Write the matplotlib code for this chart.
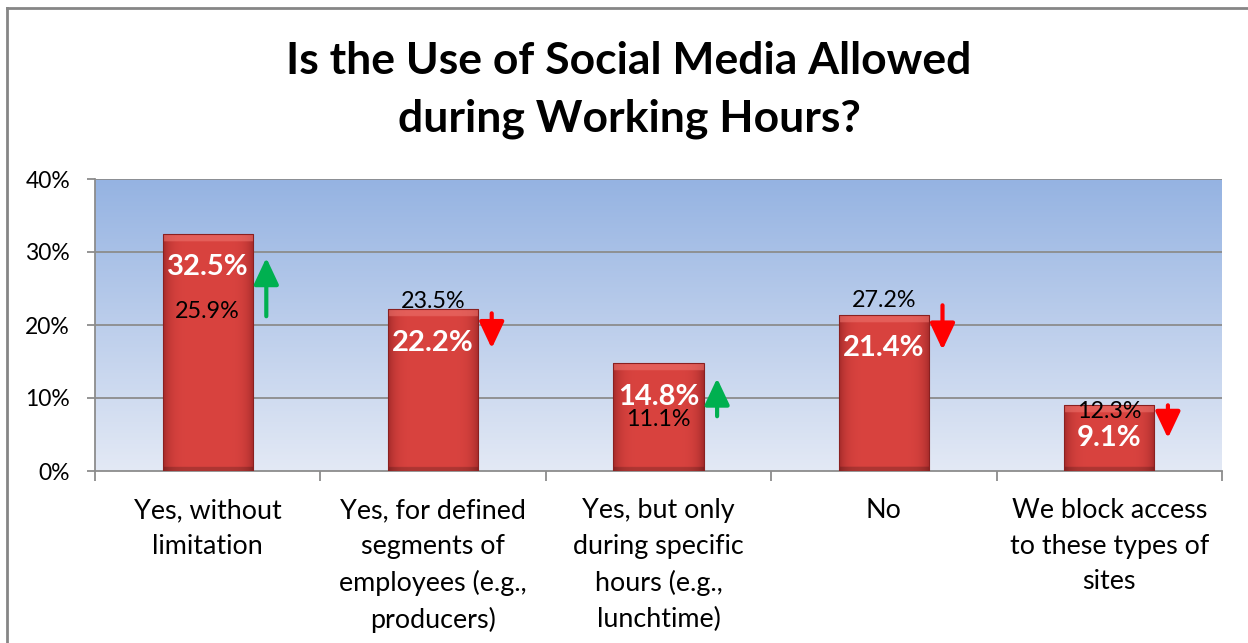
import numpy as np
import matplotlib
matplotlib.use("Agg")
import matplotlib.pyplot as plt
from matplotlib.lines import Line2D
from matplotlib.colors import to_rgb

# ---- data -------------------------------------------------------------
categories = [
    "Yes, without\nlimitation",
    "Yes, for defined\nsegments of\nemployees (e.g.,\nproducers)",
    "Yes, but only\nduring specific\nhours (e.g.,\nlunchtime)",
    "No",
    "We block access\nto these types of\nsites",
]
current_pct = [32.5, 22.2, 14.8, 21.4, 9.1]     # bar heights, bold labels
previous_pct = [25.9, 23.5, 11.1, 27.2, 12.3]   # comparison values
y_ticks = [0, 10, 20, 30, 40]

# ---- layout (label / arrow placement, in % units) ----------------------
cur_label_drop = 4.6
prev_label_y = [21.8, 23.2, 7.0, 23.4, 8.2]
arrow_span = [(21.2, 29.2), (21.6, 16.8), (7.5, 12.7), (22.7, 16.6), (9.0, 4.5)]

W, H, DPI = 1248, 643, 100
plt.rcParams["font.family"] = ["Lato", "DejaVu Sans"]

fig = plt.figure(figsize=(W / DPI, H / DPI), dpi=DPI)
fig.patch.set_facecolor("white")

ax = fig.add_axes([95 / W, 1 - 471 / H, (1222 - 95) / W, (471 - 179) / H])
x = np.arange(len(categories))
ax.set_xlim(-0.5, len(categories) - 0.5)
ax.set_ylim(0, 40)

# plot-area gradient: blue at top fading to pale at bottom
top_c = np.array(to_rgb("#95b3e2"))
bot_c = np.array(to_rgb("#e3e9f5"))
t = np.linspace(0, 1, 256)[:, None]
grad = top_c * (1 - t) + bot_c * t
ax.imshow(grad[:, None, :].repeat(2, axis=1), extent=[0, 1, 0, 1],
          transform=ax.transAxes, aspect="auto", zorder=0)
ax.set_facecolor("none")

# gridlines
for yv in y_ticks[1:]:
    ax.axhline(yv, color="#8c8c8c", lw=1.3, zorder=1)

# bars with a shaded, bevelled face
bar_w = 0.4
bars = ax.bar(x, current_pct, width=bar_w, color="#c8373a",
              edgecolor="#8a2020", linewidth=0.8, zorder=2)
fig.canvas.draw()
px_per_pct = ax.transData.transform((0, 1))[1] - ax.transData.transform((0, 0))[1]

edge_c = np.array(to_rgb("#a52b2b"))
mid_c = np.array(to_rgb("#d9433f"))
hi_c = np.array(to_rgb("#ec716b"))
for b, v in zip(bars, current_pct):
    nx, ny = 120, 400
    u = np.linspace(-1, 1, nx)
    prof = np.clip(1 - np.abs(u) ** 6, 0, 1)[None, :, None]
    img = edge_c * (1 - prof) + mid_c * prof
    img = np.repeat(img, ny, axis=0)
    band = 8 / (v * px_per_pct)
    rows = np.linspace(1, 0, ny)  # 1 = top
    top_mask = (rows > 1 - band)[:, None, None]
    img = np.where(top_mask, hi_c * 0.6 + img * 0.4, img)
    bot_band = 4 / (v * px_per_pct)
    bot_mask = (rows < bot_band)[:, None, None]
    img = np.where(bot_mask, img * 0.8, img)
    xc = b.get_x() + b.get_width() / 2
    im = ax.imshow(img, extent=[xc - bar_w / 2, xc + bar_w / 2, 0, v],
                   aspect="auto", zorder=3, interpolation="bilinear")
    im.set_clip_path(b)
    b.set_zorder(4)
    b.set_facecolor("none")

# value labels and trend arrows
for i, (c, p) in enumerate(zip(current_pct, previous_pct)):
    ax.text(i, c - cur_label_drop, f"{c:.1f}%", ha="center", va="center",
            color="white", fontsize=21, fontweight="bold", zorder=6)
    ax.text(i, prev_label_y[i], f"{p:.1f}%", ha="center", va="center",
            color="black", fontsize=16.8, zorder=6)
    y0, y1 = arrow_span[i]
    col = "#00b050" if c > p else "#ff0000"
    ax.annotate("", xy=(i + 0.26, y1), xytext=(i + 0.26, y0),
                arrowprops=dict(arrowstyle="-|>,head_length=0.85,head_width=0.4",
                                color=col, lw=3, mutation_scale=19,
                                shrinkA=0, shrinkB=0),
                zorder=7, annotation_clip=False)

# axes styling
for s in ("top", "right"):
    ax.spines[s].set_visible(False)
for s in ("left", "bottom"):
    ax.spines[s].set_color("#8c8c8c")
    ax.spines[s].set_linewidth(1.3)
ax.set_yticks(y_ticks)
ax.set_yticklabels([f"{v}%" for v in y_ticks], fontsize=16.5)
ax.tick_params(axis="y", length=6, width=1.3, color="#8c8c8c", pad=12)
ax.set_xticks(np.arange(len(categories) + 1) - 0.5)
ax.set_xticklabels([])
ax.tick_params(axis="x", length=7, width=1.3, color="#8c8c8c")
for i, lab in enumerate(categories):
    ax.text(i, -3.7, lab, ha="center", va="top", fontsize=19.4,
            linespacing=1.53, transform=ax.transData, clip_on=False)

fig.text(629 / W, 1 - 90 / H, "Is the Use of Social Media Allowed\nduring Working Hours?",
         ha="center", va="center", fontsize=32, fontweight="bold", linespacing=1.52)

# outer chart border (left and top edges)
fig.add_artist(Line2D([7 / W, 7 / W], [0, 1 - 8 / H], transform=fig.transFigure,
                      color="#868686", lw=2))
fig.add_artist(Line2D([7 / W, 1], [1 - 8 / H, 1 - 8 / H], transform=fig.transFigure,
                      color="#868686", lw=2))

fig.savefig("out.png", dpi=DPI, facecolor="white")
